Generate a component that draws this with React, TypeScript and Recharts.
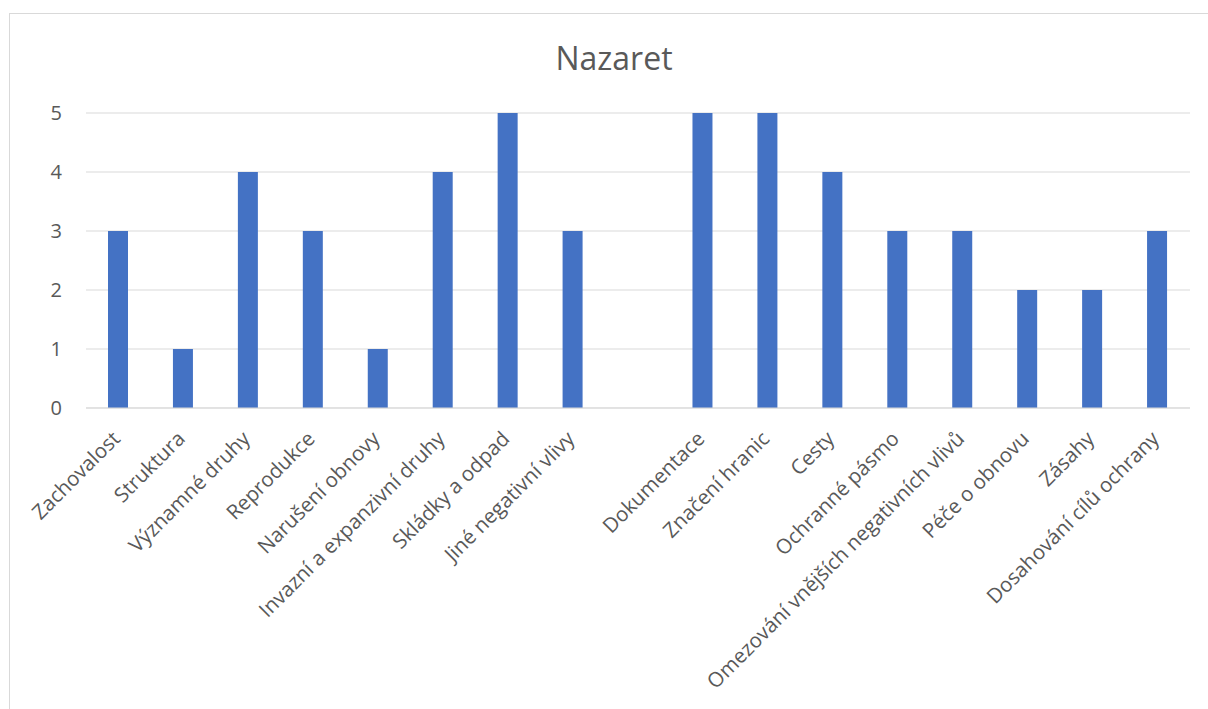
import { BarChart, Bar, XAxis, YAxis, CartesianGrid } from 'recharts'

const categories = [
  'Zachovalost',
  'Struktura',
  'Významné druhy',
  'Reprodukce',
  'Narušení obnovy',
  'Invazní a expanzivní druhy',
  'Skládky a odpad',
  'Jiné negativní vlivy',
  '',
  'Dokumentace',
  'Značení hranic',
  'Cesty',
  'Ochranné pásmo',
  'Omezování vnějších negativních vlivů',
  'Péče o obnovu',
  'Zásahy',
  'Dosahování cílů ochrany',
]

const values: (number | null)[] = [3, 1, 4, 3, 1, 4, 5, 3, null, 5, 5, 4, 3, 3, 2, 2, 3]

const yTicks = [0, 1, 2, 3, 4, 5]

const data = categories.map((name, i) => ({ name, value: values[i] }))

const FONT = '"Open Sans", "Segoe UI", sans-serif'
const TEXT = '#595959'

function AngledTick({ x, y, payload }: { x?: number; y?: number; payload?: { value: string } }) {
  return (
    <text x={x} y={y} dy={19} dx={-15} transform={`rotate(-45, ${x}, ${y})`} textAnchor="end"
      fill={TEXT} fontSize={20.5} fontFamily={FONT}>
      {payload?.value}
    </text>
  )
}

export default function App() {
  return (
    <div style={{ position: 'absolute', left: 0, top: 0, width: 1208, height: 709, background: '#fff' }}>
      <style>{'body{margin:0}'}</style>
      <div style={{ position: 'absolute', left: 9, top: 13, width: 1210, height: 710, border: '1px solid #D9D9D9', boxSizing: 'border-box' }} />
      <div style={{ position: 'absolute', left: 0, top: 36, width: 1228, textAlign: 'center', fontFamily: FONT, fontSize: 32, lineHeight: '44px', color: TEXT }}>
        Nazaret
      </div>
      <BarChart width={1208} height={709} data={data} margin={{ top: 113, right: 18, left: 0, bottom: 0 }}
        style={{ position: 'absolute', left: 0, top: 0 }}>
        <CartesianGrid vertical={false} stroke="#D9D9D9" strokeWidth={1} />
        <XAxis dataKey="name" interval={0} tick={<AngledTick />} tickLine={false}
          axisLine={{ stroke: '#D9D9D9' }} height={301} />
        <YAxis domain={[0, 5]} ticks={yTicks} width={86} axisLine={false} tickLine={false}
          tick={{ fontSize: 20, fill: TEXT, fontFamily: FONT, dx: -16 }} />
        <Bar dataKey="value" fill="#4472C4" barSize={20} isAnimationActive={false} />
      </BarChart>
    </div>
  )
}
